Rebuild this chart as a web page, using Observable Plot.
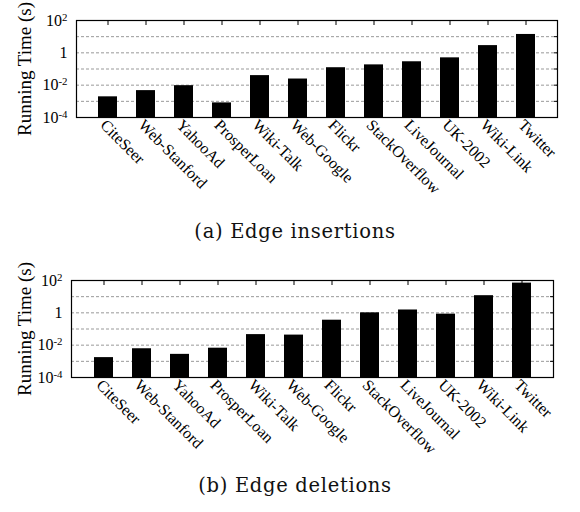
<!DOCTYPE html>
<html>
<head>
<meta charset="utf-8">
<script src="https://cdn.jsdelivr.net/npm/d3@7"></script>
<script src="https://cdn.jsdelivr.net/npm/@observablehq/plot@0.6"></script>
<style>
  body { margin: 0; background: #fff; }
  #page { position: relative; width: 580px; height: 512px; overflow: hidden; }
  .chart { position: absolute; left: 0; }
  .caption { position: absolute; left: 0; width: 590px; text-align: center;
             font-family: "DejaVu Serif", serif; font-size: 19.5px; letter-spacing: 0.7px; color: #111; }
</style>
</head>
<body>
<div id="page">
  <div class="chart" id="c1" style="top:0px"></div>
  <div class="caption" style="top:220px">(a) Edge insertions</div>
  <div class="chart" id="c2" style="top:260px"></div>
  <div class="caption" style="top:474px">(b) Edge deletions</div>
</div>
<script>
const datasets = ["CiteSeer","Web-Stanford","YahooAd","ProsperLoan","Wiki-Talk","Web-Google","Flickr","StackOverflow","LiveJournal","UK-2002","Wiki-Link","Twitter"];
const insertionTimes = [0.0019,0.0046,0.0093,0.0008,0.039,0.024,0.12,0.18,0.28,0.49,2.8,13.7];
const deletionTimes = [0.0017,0.006,0.0027,0.0065,0.045,0.042,0.35,1.0,1.5,0.83,11.5,69];
const yLabelTicks = [1e-4, 1e-2, 1, 1e2];
const yLabelText = ["10^-4", "10^-2", "1", "10^2"];
const decadeTicks = [1e-4, 1e-3, 1e-2, 1e-1, 1, 1e1, 1e2];
const gridLines = [1e-3, 1e-2, 1e-1, 1, 1e1];
const yTitle = "Running Time (s)";

function makeChart(values, mLeft, mRight) {
  const data = datasets.map((d, i) => ({name: d, value: values[i]}));
  const fmt = v => yLabelText[yLabelTicks.findIndex(t => Math.abs(Math.log10(t) - Math.log10(v)) < 1e-6)];
  const chart = Plot.plot({
    width: 580,
    height: 212,
    marginLeft: mLeft,
    marginRight: mRight,
    marginTop: 20,
    marginBottom: 95,
    style: {fontFamily: "'Liberation Serif', serif", fontSize: "15px", color: "#000", background: "#fff"},
    x: {domain: datasets, padding: 0.5, label: null},
    y: {type: "log", domain: [1e-4, 1e2], label: null},
    marks: [
      Plot.ruleY(gridLines, {stroke: "#999", strokeDasharray: "3,2", strokeWidth: 1}),
      Plot.barY(data, {x: "name", y1: 1e-4, y2: "value", fill: "#000"}),
      Plot.axisX({anchor: "bottom", tickSize: 0, tickPadding: 5, tickRotate: 45, fontSize: 16, dx: -5}),
      Plot.axisX({anchor: "top", tickSize: -4, tickFormat: () => "", stroke: "#000"}),
      Plot.axisY({anchor: "right", ticks: decadeTicks, tickSize: -4, tickFormat: () => ""}),
      Plot.axisY({anchor: "left", ticks: yLabelTicks, tickSize: 0, tickPadding: 9, tickFormat: fmt,
                  fontSize: 16, label: null}),
      Plot.text([yTitle], {frameAnchor: "left", textAnchor: "middle", rotate: -90, dx: -(mLeft - 24), fontSize: 19, fill: "#000"}),
      Plot.frame({stroke: "#000", strokeWidth: 1.2})
    ]
  });
  const svg = d3.select(chart);
  // superscripts for powers of ten
  svg.selectAll('g[aria-label="y-axis tick label"] text').each(function() {
    const t = d3.select(this);
    const s = t.text();
    if (s.includes("^")) {
      const [base, exp] = s.split("^");
      t.text(null);
      t.append("tspan").text(base);
      t.append("tspan").attr("dy", "-0.45em").attr("font-size", "0.68em").text(exp);
    }
  });
  return chart;
}

document.getElementById("c1").appendChild(makeChart(insertionTimes, 76, 23));
document.getElementById("c2").appendChild(makeChart(deletionTimes, 71, 27));
</script>
</body>
</html>
